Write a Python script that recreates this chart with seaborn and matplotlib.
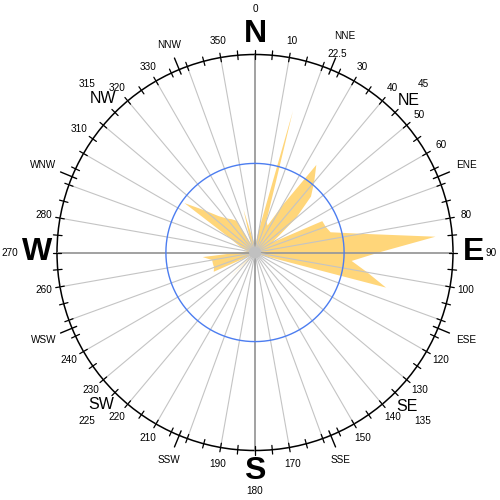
import numpy as np
import pandas as pd
import matplotlib
matplotlib.use("Agg")
import matplotlib.pyplot as plt
import seaborn as sns

# ---- data (direction in degrees, relative frequency; outer ring = 100) ----
directions = list(range(0, 360, 5))
frequency = [5, 5, 12, 74, 17, 15, 27, 54, 46.5, 40,             # 0-45
             27, 15, 10, 37.5, 38, 39.5, 54.5, 91.5, 62.5, 49,    # 50-95
             57.5, 68.5, 5, 2.5, 2, 2, 2, 2, 2, 2,                # 100-145
             2, 2, 2, 2, 2, 2, 2, 2, 2, 2,                        # 150-195
             2, 2, 2, 2, 2, 18, 2, 2.5, 5, 23,                    # 200-245
             22, 22, 22, 26.5, 8, 5, 4, 5, 7.5, 10,               # 250-295
             15, 43.5, 33, 26, 22.5, 20.5, 18.5, 5, 7.5, 22.5,    # 300-345
             7.5, 5]                                              # 350-355
reference_ring = 45
rmax = 100

number_labels = [0, 10, 22.5, 30, 40, 45, 50, 60, 80, 90, 100, 120, 130, 135,
                 140, 150, 170, 180, 190, 210, 220, 225, 230, 240, 260, 270,
                 280, 310, 315, 320, 330, 350]
cardinals = {"N": 0, "E": 90, "S": 180, "W": 270}
ordinals = {"NE": 45, "SE": 135, "SW": 225, "NW": 315}
minor_points = {"NNE": 22.5, "ENE": 67.5, "ESE": 112.5, "SSE": 157.5,
                "SSW": 202.5, "WSW": 247.5, "WNW": 292.5, "NNW": 337.5}

df = pd.DataFrame({"direction": directions, "frequency": frequency})

sns.set_theme(style="white")
plt.rcParams["font.family"] = ["Liberation Sans", "DejaVu Sans"]

fig = plt.figure(figsize=(5, 5), dpi=100)
R = 198 / 500
cx, cy = 255 / 500, 1 - 252.5 / 500
ax = fig.add_axes([cx - R, cy - R, 2 * R, 2 * R], projection="polar")
ax.set_theta_zero_location("N")
ax.set_theta_direction(-1)
ax.set_ylim(0, rmax)
ax.grid(False)
ax.set_xticks([])
ax.set_yticks([])
ax.spines["polar"].set_color("black")
ax.spines["polar"].set_linewidth(1.1)
ax.set_facecolor("white")

# rose area
th = np.deg2rad(np.append(df["direction"].values, df["direction"].values[0]))
rr = np.append(df["frequency"].values, df["frequency"].values[0])
ax.fill(th, rr, color="#FFD67A", lw=0, zorder=2)

# radial grid lines
for d in range(0, 360, 10):
    if d % 90 == 0:
        ax.plot([np.deg2rad(d)] * 2, [0, rmax], color="#9a9a9a", lw=1.3, zorder=3)
    else:
        ax.plot([np.deg2rad(d)] * 2, [0, rmax], color="#c4c4c4", lw=0.8, zorder=3)

# reference circle
circ = pd.DataFrame({"t": np.linspace(0, 2 * np.pi, 361),
                     "r": np.full(361, reference_ring)})
sns.lineplot(data=circ, x="t", y="r", ax=ax, sort=False, color="#4C7DF0",
             lw=1.0, zorder=4)
ax.set_xlabel("")
ax.set_ylabel("")
ax.set_ylim(0, rmax)

# center disc
tt = np.linspace(0, 2 * np.pi, 100)
ax.fill(tt, np.full(100, 3.0), color="#c0c0c0", lw=0, zorder=5)

# ticks
for d in range(0, 360, 5):
    ax.plot([np.deg2rad(d)] * 2, [97.8, 102.2], color="black", lw=0.9,
            clip_on=False, zorder=6)
for name, d in minor_points.items():
    ax.plot([np.deg2rad(d)] * 2, [97.5, 106.3], color="black", lw=1.0,
            clip_on=False, zorder=6)


def put(text, ang, rad, **kw):
    ax.text(np.deg2rad(ang), rad, text, ha="center", va="center",
            clip_on=False, **kw)


fs_num = 7.2
pos_override = {310: (305, 108.5), 22.5: (22.4, 108.5),
                0: (0, 123), 90: (90, 119.5), 180: (180, 120.5), 270: (270, 124)}
for v in number_labels:
    if v in ordinals.values():
        rad = 120
    else:
        rad = 108.3
    ang = v
    if v in pos_override:
        ang, rad = pos_override[v]
    txt = ("%g" % v)
    put(txt, ang, rad, fontsize=fs_num, color="black")

for name, d in cardinals.items():
    put(name, d, 110.2, fontsize=23, fontweight="bold", color="black")
for name, d in ordinals.items():
    put(name, d + 0.5, 109.2, fontsize=11.5, color="black")
for name, d in minor_points.items():
    rad = 111.5 + 4.5 * abs(np.sin(np.deg2rad(d)))
    if name == "NNE":
        rad = 118.5
    put(name, d, rad, fontsize=fs_num, color="black")

fig.savefig("out.png", dpi=100, facecolor="white")
